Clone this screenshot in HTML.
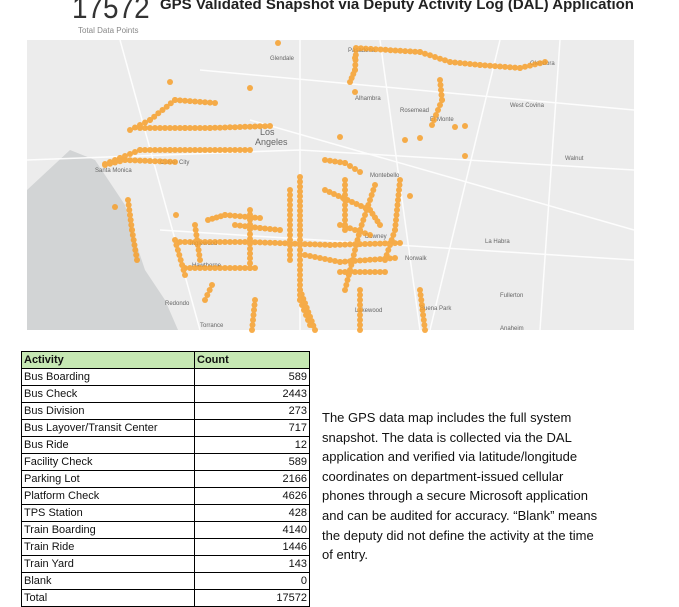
<!DOCTYPE html>
<html><head><meta charset="utf-8">
<style>
body{margin:0;width:679px;height:600px;overflow:hidden;background:#fff;font-family:"Liberation Sans",sans-serif;position:relative}
.big{position:absolute;left:72px;top:-10px;font-size:31px;color:#333;transform:scaleX(0.9);transform-origin:left}
.title{position:absolute;left:160px;top:-4px;font-size:15px;font-weight:bold;color:#222}
.sub{position:absolute;left:78px;top:26px;font-size:8px;color:#888}
table{position:absolute;left:21px;top:351px;border-collapse:collapse;font-size:11px;color:#111}
td{border:1px solid #000;height:16px;padding:0 2px;line-height:16px}
td.n{text-align:right}
tr.h td{background:#c6e8b3;font-weight:bold}
.txt{position:absolute;left:322px;top:408px;width:280px;font-size:13px;line-height:19.6px;color:#111}
</style></head><body>
<div class="big">17572</div>
<div class="title">GPS Validated Snapshot via Deputy Activity Log (DAL) Application</div>
<div class="sub">Total Data Points</div>
<svg id="m" style="position:absolute;left:0;top:0" width="679" height="600">
<rect x="27" y="40" width="607" height="290" fill="#ececec"/>
<path d="M27 190 L70 150 L95 160 L105 175 L125 205 L135 240 L145 270 L165 300 L178 330 L27 330Z" fill="#d2d4d5"/>
<g stroke="#fff" stroke-width="1.5" fill="none" opacity="0.9">
<path d="M27 160 L300 150 L634 170"/><path d="M300 40 L300 330"/><path d="M120 40 L200 330"/>
<path d="M200 70 L634 110"/><path d="M380 40 L420 330"/><path d="M500 40 L430 330"/>
<path d="M160 230 L634 260"/><path d="M250 120 L634 230"/><path d="M560 40 L540 330"/>
</g>
<g font-size="6" fill="#666">
<text x="270" y="60">Glendale</text><text x="348" y="52">Pasadena</text><text x="260" y="135" font-size="9">Los</text><text x="255" y="145" font-size="9">Angeles</text>
<text x="530" y="65">Glendora</text><text x="355" y="100">Alhambra</text><text x="400" y="112">Rosemead</text><text x="430" y="121">El Monte</text>
<text x="510" y="107">West Covina</text><text x="565" y="160">Walnut</text><text x="485" y="243">La Habra</text><text x="500" y="297">Fullerton</text>
<text x="500" y="330">Anaheim</text><text x="370" y="177">Montebello</text><text x="365" y="238">Downey</text><text x="405" y="260">Norwalk</text>
<text x="190" y="245">Inglewood</text><text x="192" y="267">Hawthorne</text><text x="165" y="305">Redondo</text><text x="200" y="327">Torrance</text>
<text x="160" y="164">Culver City</text><text x="95" y="172">Santa Monica</text><text x="355" y="312">Lakewood</text><text x="420" y="310">Buena Park</text>
</g>
<g id="d" fill="#f7a02c" opacity="0.85"></g>
</svg>
<table>
<tr class="h"><td style="width:168px">Activity</td><td style="width:110px">Count</td></tr>
<tr><td>Bus Boarding</td><td class="n">589</td></tr>
<tr><td>Bus Check</td><td class="n">2443</td></tr>
<tr><td>Bus Division</td><td class="n">273</td></tr>
<tr><td>Bus Layover/Transit Center</td><td class="n">717</td></tr>
<tr><td>Bus Ride</td><td class="n">12</td></tr>
<tr><td>Facility Check</td><td class="n">589</td></tr>
<tr><td>Parking Lot</td><td class="n">2166</td></tr>
<tr><td>Platform Check</td><td class="n">4626</td></tr>
<tr><td>TPS Station</td><td class="n">428</td></tr>
<tr><td>Train Boarding</td><td class="n">4140</td></tr>
<tr><td>Train Ride</td><td class="n">1446</td></tr>
<tr><td>Train Yard</td><td class="n">143</td></tr>
<tr><td>Blank</td><td class="n">0</td></tr>
<tr><td>Total</td><td class="n">17572</td></tr>
</table>
<div class="txt">The GPS data map includes the full system snapshot. The data is collected via the DAL application and verified via latitude/longitude coordinates on department-issued cellular phones through a secure Microsoft application and can be audited for accuracy. “Blank” means the deputy did not define the activity at the time of entry.</div>
<script>
var segs=[
[[356,48],[420,52],[450,62],[480,65],[520,68],[545,62]],
[[356,50],[355,70],[350,82]],
[[140,128],[185,128],[210,128],[270,126]],
[[105,164],[120,158],[140,150]],
[[140,150],[170,150],[250,150]],
[[130,130],[150,120],[175,100],[215,103]],
[[105,165],[125,160],[175,162]],
[[300,177],[300,230],[300,300],[310,325]],
[[180,242],[250,242],[330,245],[400,243]],
[[185,268],[255,268]],
[[325,160],[345,163],[360,172]],
[[345,180],[345,230]],
[[375,185],[360,230],[345,290]],
[[290,190],[290,260]],
[[250,210],[250,268]],
[[208,220],[225,215],[260,218]],
[[235,225],[260,228],[280,230]],
[[325,190],[370,210],[380,225]],
[[340,225],[370,235]],
[[305,255],[340,262],[395,258]],
[[340,272],[385,272]],
[[360,290],[360,330]],
[[420,290],[425,330]],
[[128,200],[132,230],[137,260]],
[[440,80],[442,100],[432,125]],
[[400,180],[395,230],[385,260]],
[[300,290],[315,330]],[[255,300],[252,330]],
[[175,240],[185,275]],[[195,225],[200,260]],[[212,285],[205,300]]
];
var g=document.getElementById('d'),h='';
segs.forEach(function(s){for(var i=0;i<s.length-1;i++){var a=s[i],b=s[i+1],L=Math.hypot(b[0]-a[0],b[1]-a[1]),n=Math.max(1,Math.round(L/5));for(var k=0;k<=n;k++){h+='<circle cx="'+(a[0]+(b[0]-a[0])*k/n).toFixed(1)+'" cy="'+(a[1]+(b[1]-a[1])*k/n).toFixed(1)+'" r="3"/>';}}});
[[250,88],[170,82],[278,43],[355,92],[455,127],[420,138],[465,156],[405,140],[340,137],[465,126],[176,215],[115,207],[410,196],[355,58]].forEach(function(p){h+='<circle cx="'+p[0]+'" cy="'+p[1]+'" r="3"/>';});
g.innerHTML=h;
</script>
</body></html>
